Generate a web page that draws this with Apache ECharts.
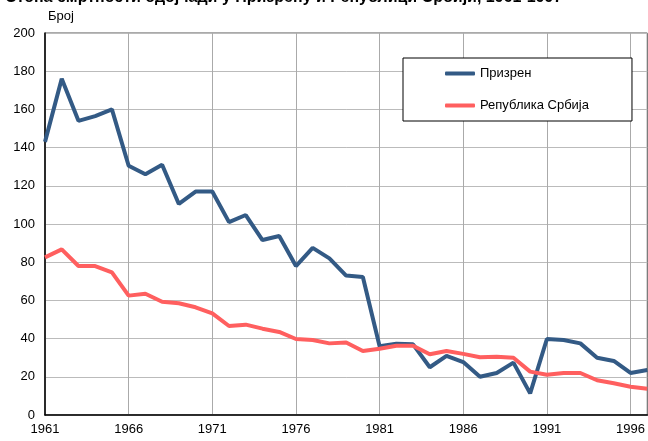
<!DOCTYPE html>
<html style="height: 100%">
<head>
<meta charset="utf-8">
<title>Призрен и Република Србија</title>
<script src="https://cdn.jsdelivr.net/npm/echarts@6/dist/echarts.min.js"></script>
</head>
<body style="height: 100%; margin: 0; background: #fff;">
<div id="container" style="width: 648px; height: 441px;"></div>
<script type="text/javascript">
// године 1961-1997
var years = [];
for (var y = 1961; y <= 1997; y++) { years.push(String(y)); }

var prizren = [143, 176, 154, 156.5, 160, 130.5, 126, 131, 110.5, 117, 117, 101, 104.7, 91.6, 93.7, 78, 87.5, 82, 73, 72.3,
    36, 37.3, 37, 25, 31, 27.7, 20, 22, 27.4, 11.3, 39.8, 39.3, 37.5, 30, 28.3, 22, 23.6];
var srbija = [82.5, 86.7, 78, 78, 74.7, 62.5, 63.5, 59.3, 58.5, 56.4, 53.2, 46.6, 47.3, 45.2, 43.5, 39.8, 39.3, 37.5, 38, 33.5,
    34.7, 36.3, 36.3, 31.8, 33.5, 32, 30.2, 30.5, 30, 22.7, 21.1, 22, 22, 18.2, 16.6, 14.8, 13.8];

var yTicks = [0, 20, 40, 60, 80, 100, 120, 140, 160, 180, 200];

var font = 'Liberation Sans, Arial, sans-serif';
var myChart = echarts.init(document.getElementById('container'));
var option = {
    animation: false,
    textStyle: { fontFamily: font },
    title: [
        {
            // naslov je odsečen na vrhu slike
            text: 'Стопа смртности одојчади у Призрену и Републици Србији, 1961-1997',
            left: 0, top: -15,
            textStyle: { fontSize: 16, fontWeight: 'bold', color: '#000', fontFamily: font }
        },
        {
            text: 'Број',
            left: 43, top: 5,
            textStyle: { fontSize: 13, fontWeight: 'normal', color: '#000', fontFamily: font }
        }
    ],
    legend: {
        orient: 'vertical',
        left: 403, top: 58,
        padding: [9, 43, 9, 42],
        itemGap: 19,
        itemWidth: 30, itemHeight: 4,
        borderColor: '#000', borderWidth: 1,
        backgroundColor: '#fff',
        icon: 'roundRect',
        textStyle: { fontSize: 13, color: '#000', fontFamily: font },
        data: ['Призрен', 'Република Србија']
    },
    grid: {
        left: 45, right: -1, top: 33, bottom: 26,
        show: true, borderColor: '#555', borderWidth: 1
    },
    xAxis: {
        type: 'category',
        boundaryGap: false,
        data: years,
        axisLine: { lineStyle: { color: '#000', width: 1.5 } },
        axisTick: { show: false },
        axisLabel: { interval: 4, color: '#000', fontSize: 13, margin: 8 },
        splitLine: { show: true, interval: 4, lineStyle: { color: '#aaa', width: 1 } }
    },
    yAxis: {
        type: 'value',
        min: 0, max: 200, interval: 20,
        axisLine: { show: true, lineStyle: { color: '#000', width: 1.5 } },
        axisTick: { show: false },
        axisLabel: { color: '#000', fontSize: 13, margin: 10,
            formatter: function (v) { return yTicks.indexOf(v) >= 0 ? String(v) : ''; } },
        splitLine: { lineStyle: { color: '#bbb', width: 1 } }
    },
    series: [
        {
            name: 'Призрен', type: 'line', data: prizren,
            symbol: 'none', color: '#335a85',
            lineStyle: { width: 4, color: '#335a85' }
        },
        {
            name: 'Република Србија', type: 'line', data: srbija,
            symbol: 'none', color: '#ff5f5f',
            lineStyle: { width: 4, color: '#ff5f5f' }
        }
    ]
};
myChart.setOption(option);
</script>
</body>
</html>
